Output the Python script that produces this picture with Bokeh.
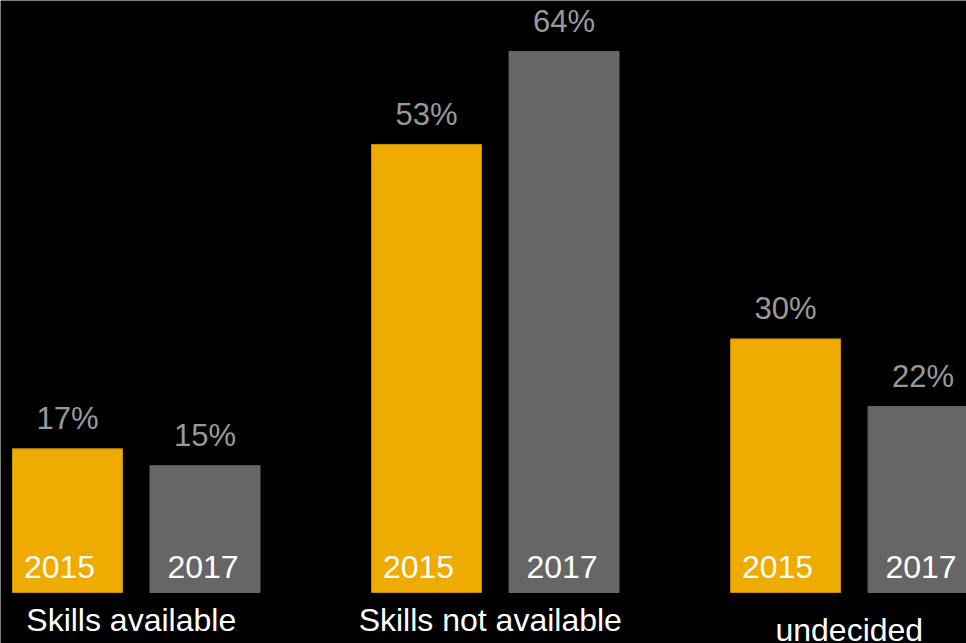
from bokeh.plotting import figure
from bokeh.models import ColumnDataSource, Range1d
from bokeh.core.properties import value
from bokeh.embed import file_html
from bokeh.resources import INLINE

categories = ["Skills available", "Skills not available", "undecided"]
years = ["2015", "2017"]
values_2015 = [17, 53, 30]
values_2017 = [15, 64, 22]

ORANGE = "#F0AB00"
GRAY = "#666666"
FONT = value("Liberation Sans")

p = figure(width=966, height=643, output_backend="svg", toolbar_location=None,
           x_range=Range1d(-0.1866, 2.504), y_range=Range1d(-6.03, 70.03),
           min_border=0, min_border_left=0, min_border_right=0,
           min_border_top=0, min_border_bottom=0)
p.background_fill_color = "black"
p.border_fill_color = "black"
p.outline_line_color = None
p.axis.visible = False
p.grid.visible = False

gidx = list(range(len(categories)))
off = 0.383
w = 0.3064

s15 = ColumnDataSource(dict(x=[i for i in gidx], top=values_2015,
                            lab=[f"{v}%" for v in values_2015], yr=[years[0]] * 3))
s17 = ColumnDataSource(dict(x=[i + off for i in gidx], top=values_2017,
                            lab=[f"{v}%" for v in values_2017], yr=[years[1]] * 3))

p.vbar(x="x", top="top", bottom=0, width=w, source=s15, fill_color=ORANGE, line_color="#C98F00", line_width=1)
p.vbar(x="x", top="top", bottom=0, width=w, source=s17, fill_color=GRAY, line_color=GRAY, line_width=1)

for src, xo in ((s15, -8), (s17, -2)):
    p.text(x="x", y="top", text="lab", source=src, text_align="center", text_baseline="alphabetic",
           y_offset=-30, text_color="#999999", text_font=FONT, text_font_size="31px")
    p.text(x="x", y=0, text="yr", source=src, text_align="center", text_baseline="alphabetic",
           x_offset=xo, y_offset=-26, text_color="white", text_font=FONT, text_font_size="32px")

cx = [i + off / 2 for i in gidx]
cy_off = [27, 27, 37]
for i, c in enumerate(categories):
    p.text(x=[cx[i]], y=[0], text=[c], text_align="center", text_baseline="alphabetic",
           x_offset=-5, y_offset=cy_off[i], text_color="white", text_font=FONT, text_font_size="32px")

open("out.html", "w").write(file_html(p, INLINE))
